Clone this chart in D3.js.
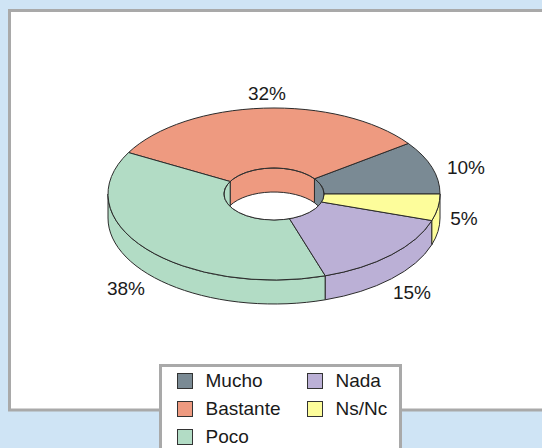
<!DOCTYPE html>
<html>
<head>
<meta charset="utf-8">
<script src="https://cdn.jsdelivr.net/npm/d3@7"></script>
<style>
  html, body { margin: 0; padding: 0; background: #cfe4f5; overflow: hidden; }
  text { font-family: "Liberation Sans", Arial, sans-serif; fill: #1a1a1a; }
</style>
</head>
<body>
<svg class="chart" width="542" height="448"></svg>
<script>
var categories = ["Mucho", "Bastante", "Poco", "Nada", "Ns/Nc"];
var values = [10, 32, 38, 15, 5];
var colors = ["#7a8a94", "#ee9a80", "#b2dcc5", "#bbb0d6", "#fdfd9b"];

var width = 542,
    height = 448;

var cx = 274, cy = 194,
    rx = 166, ry = 86,
    irx = 50, iry = 26,
    depth = 24;

var line = "#2b2b2b";

var svg = d3.select(".chart")
    .attr("width", width)
    .attr("height", height);

// frame, runs off the right edge
svg.append("rect")
    .attr("x", 9.5).attr("y", 10.5)
    .attr("width", 560).attr("height", 399.5)
    .attr("fill", "#fff")
    .attr("stroke", "#a9a9a9")
    .attr("stroke-width", 3);

// d3 angles: 0 at 12 o'clock, clockwise. we go counter clockwise from 3 o'clock
var pie = d3.pie()
    .sort(null)
    .value(function(d) { return d; })
    .startAngle(Math.PI / 2)
    .endAngle(Math.PI / 2 - 2 * Math.PI);

var slices = pie(values);

// point on ellipse, a in d3 angle
function px(a, r) { return cx + r * Math.sin(a); }
function py(a, r, dy) { return cy - r * Math.cos(a) + (dy || 0); }

// band between two angles, on the top edge and shifted down by depth
function wall(a0, a1, r1, r2) {
  var sweep0 = a1 < a0 ? 0 : 1,
      sweep1 = 1 - sweep0;
  return "M" + px(a0, r1) + "," + py(a0, r2) +
    "A" + r1 + "," + r2 + " 0 0 " + sweep0 + " " + px(a1, r1) + "," + py(a1, r2) +
    "L" + px(a1, r1) + "," + py(a1, r2, depth) +
    "A" + r1 + "," + r2 + " 0 0 " + sweep1 + " " + px(a0, r1) + "," + py(a0, r2, depth) +
    "Z";
}

// outer side, only the near half shows: d3 angle from -PI/2 down to -3PI/2
var sideMax = -Math.PI / 2, sideMin = -3 * Math.PI / 2;
slices.forEach(function(d, i) {
  var a0 = Math.min(d.startAngle, sideMax),
      a1 = Math.max(d.endAngle, sideMin);
  if (a0 <= a1) return;
  svg.append("path")
    .attr("d", wall(a0, a1, rx, ry))
    .attr("fill", colors[i])
    .attr("stroke", line)
    .attr("stroke-width", 1);
});

// top faces: d3.arc squashed into an ellipse
var arc = d3.arc()
    .innerRadius(irx)
    .outerRadius(rx);

svg.selectAll(".face")
    .data(slices)
    .enter()
    .append("path")
    .attr("class", "face")
    .attr("transform", "translate(" + cx + "," + cy + ") scale(1," + (ry / rx) + ")")
    .attr("d", arc)
    .attr("fill", function(d, i) { return colors[i]; })
    .attr("stroke", line)
    .attr("stroke-width", 1)
    .attr("vector-effect", "non-scaling-stroke");

// the hole: white, then far side inner walls clipped to it
svg.append("clipPath")
    .attr("id", "hole")
    .append("ellipse")
    .attr("cx", cx).attr("cy", cy)
    .attr("rx", irx).attr("ry", iry);

svg.append("ellipse")
    .attr("cx", cx).attr("cy", cy)
    .attr("rx", irx).attr("ry", iry)
    .attr("fill", "#fff");

var walls = svg.append("g").attr("clip-path", "url(#hole)");
slices.forEach(function(d, i) {
  var a0 = Math.min(d.startAngle, Math.PI / 2),
      a1 = Math.max(d.endAngle, -Math.PI / 2);
  if (a0 <= a1) return;
  walls.append("path")
    .attr("d", wall(a0, a1, irx, iry))
    .attr("fill", colors[i])
    .attr("stroke", line)
    .attr("stroke-width", 1);
});

svg.append("ellipse")
    .attr("cx", cx).attr("cy", cy)
    .attr("rx", irx).attr("ry", iry)
    .attr("fill", "none")
    .attr("stroke", line)
    .attr("stroke-width", 1);

// slice labels
var labelPos = [[466, 174], [267, 100], [126, 295], [412, 299], [464, 225]];
svg.selectAll(".label")
    .data(slices)
    .enter()
    .append("text")
    .attr("class", "label")
    .attr("x", function(d, i) { return labelPos[i][0]; })
    .attr("y", function(d, i) { return labelPos[i][1]; })
    .attr("text-anchor", "middle")
    .attr("font-size", 19)
    .text(function(d) { return d.data + "%"; });

// legend
svg.append("rect")
    .attr("x", 160.5).attr("y", 365.5)
    .attr("width", 240).attr("height", 90)
    .attr("fill", "#fff")
    .attr("stroke", "#a9a9a9")
    .attr("stroke-width", 3);

var legendCol = d3.scalePoint().domain([0, 1]).range([177, 307]);
var legendRow = d3.scalePoint().domain([0, 1, 2]).range([373, 429]);

var legend = svg.selectAll(".legend")
    .data(categories)
    .enter()
    .append("g")
    .attr("class", "legend")
    .attr("transform", function(d, i) {
      var col = i < 3 ? 0 : 1,
          row = i < 3 ? i : i - 3;
      return "translate(" + legendCol(col) + "," + legendRow(row) + ")";
    });

legend.append("rect")
    .attr("x", 0.5).attr("y", 0.5)
    .attr("width", 15).attr("height", 15)
    .attr("fill", function(d, i) { return colors[i]; })
    .attr("stroke", "#333");

legend.append("text")
    .attr("x", 28.5)
    .attr("y", 14)
    .attr("font-size", 19)
    .text(function(d) { return d; });
</script>
</body>
</html>
